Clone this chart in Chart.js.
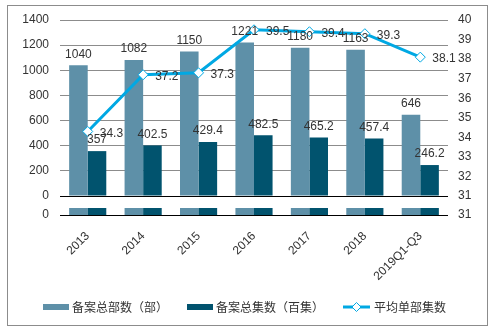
<!DOCTYPE html>
<html>
<head>
<meta charset="utf-8">
<script src="https://cdn.jsdelivr.net/npm/chart.js@4"></script>
<style>
  body { margin: 0; background: #fff; }
  #wrap { position: relative; width: 495px; height: 333px; }
  #frame { position: absolute; left: 7px; top: 5px; width: 481px; height: 321px; border: 1px solid #8c8c8c; box-sizing: border-box; }
  #legend { position: absolute; left: 43px; top: 299px; display: flex; align-items: center; font: 12px "Noto Sans CJK SC", sans-serif; color: #333; line-height: 16px; }
  #legend .item { display: flex; align-items: center; margin-right: 19px; }
  #legend .sw { display: inline-block; width: 26px; height: 6px; margin-right: 3px; }
  #legend svg { margin-right: 4px; }
</style>
</head>
<body>
<div id="wrap">
  <div id="frame"></div>
  <canvas id="myChart"></canvas>
  <div id="legend"></div>
</div>
<script>
// data
const categories = ['2013', '2014', '2015', '2016', '2017', '2018', '2019Q1-Q3'];
const totalWorks = [1040, 1082, 1150, 1221, 1180, 1163, 646];
const totalEpisodes = [357, 402.5, 429.4, 482.5, 465.2, 457.4, 246.2];
const avgEpisodes = [34.3, 37.2, 37.3, 39.5, 39.4, 39.3, 38.1];
const seriesNames = ['备案总部数（部）', '备案总集数（百集）', '平均单部集数'];
const leftTicks = [0, 1400, 200];   // min, max, step
const rightTicks = [31, 40, 1];

const colLight = '#5e90a8';
const colDark = '#01536e';
const colLine = '#00a8e3';
const txt = '#333';
const numFont = { family: '"Liberation Sans", Arial, sans-serif', size: 12 };

// labels on bars and points, plus the little broken-axis strip under the plot
const extras = {
  id: 'extras',
  afterDatasetsDraw(chart) {
    const ctx = chart.ctx, area = chart.chartArea;
    ctx.save();
    const stubTop = area.bottom + 12, stubBottom = area.bottom + 19;
    chart.data.datasets.forEach((ds, i) => {
      if (ds.type === 'line') return;
      chart.getDatasetMeta(i).data.forEach(el => {
        ctx.fillStyle = ds.backgroundColor;
        ctx.fillRect(el.x - el.width / 2, stubTop, el.width, stubBottom - stubTop);
      });
    });
    ctx.strokeStyle = '#000';
    ctx.lineWidth = 1;
    ctx.beginPath();
    ctx.moveTo(area.left, stubBottom + 0.5);
    ctx.lineTo(area.right, stubBottom + 0.5);
    ctx.stroke();

    ctx.font = numFont.size + 'px ' + numFont.family;
    ctx.fillStyle = txt;
    ctx.textBaseline = 'middle';
    ctx.textAlign = 'right';
    ctx.fillText(String(chart.scales.y.min), area.left - 11, stubBottom);
    ctx.textAlign = 'left';
    ctx.fillText(String(chart.scales.y1.min), area.right + 10, stubBottom);

    chart.data.datasets.forEach((ds, i) => {
      const meta = chart.getDatasetMeta(i);
      meta.data.forEach((el, j) => {
        const v = String(ds.data[j]);
        if (ds.type === 'line') {
          ctx.textAlign = 'left';
          ctx.textBaseline = 'middle';
          ctx.fillText(v, el.x + 12, el.y + 2);
        } else {
          ctx.textAlign = 'center';
          ctx.textBaseline = 'bottom';
          ctx.fillText(v, el.x, el.y - 5);
        }
      });
    });
    ctx.restore();
  }
};

var ctx = document.getElementById('myChart').getContext('2d');
var myChart = new Chart(ctx, {
  type: 'bar',
  data: {
    labels: categories,
    datasets: [{
      type: 'line',
      label: seriesNames[2],
      data: avgEpisodes,
      yAxisID: 'y1',
      borderColor: colLine,
      borderWidth: 3,
      pointStyle: 'rectRot',
      pointRadius: 5,
      pointBackgroundColor: '#fff',
      pointBorderColor: colLine,
      pointBorderWidth: 1,
      tension: 0,
      order: 0
    }, {
      label: seriesNames[0],
      data: totalWorks,
      yAxisID: 'y',
      backgroundColor: colLight,
      categoryPercentage: 0.67,
      barPercentage: 1,
      order: 1
    }, {
      label: seriesNames[1],
      data: totalEpisodes,
      yAxisID: 'y',
      backgroundColor: colDark,
      categoryPercentage: 0.67,
      barPercentage: 1,
      order: 2
    }]
  },
  options: {
    responsive: true,
    maintainAspectRatio: false,
    animation: false,
    layout: { padding: { top: 20, left: 0, right: 0, bottom: 0 } },
    plugins: { legend: { display: false }, tooltip: { enabled: false } },
    scales: {
      x: {
        grid: { display: false, drawTicks: false },
        border: { display: false },
        ticks: { color: txt, font: numFont, minRotation: 45, maxRotation: 45, padding: 33 },
        afterFit(scale) { scale.height = 137; }
      },
      y: {
        position: 'left',
        min: leftTicks[0], max: leftTicks[1],
        ticks: { stepSize: leftTicks[2], color: txt, font: numFont, padding: 11, callback: v => String(v) },
        grid: { drawTicks: false, color: c => c.tick && c.tick.value === 0 ? '#000' : '#8c8c8c' },
        border: { display: false },
        afterFit(scale) { scale.width = 60; }
      },
      y1: {
        position: 'right',
        min: rightTicks[0], max: rightTicks[1],
        ticks: { stepSize: rightTicks[2], color: txt, font: numFont, padding: 10, callback: v => String(v) },
        grid: { drawOnChartArea: false, drawTicks: false },
        border: { display: false },
        afterFit(scale) { scale.width = 47; }
      }
    }
  },
  plugins: [extras]
});

// legend built from the dataset names
const legend = document.getElementById('legend');
[[colLight, seriesNames[0]], [colDark, seriesNames[1]]].forEach(p => {
  legend.insertAdjacentHTML('beforeend',
    `<span class="item"><i class="sw" style="background:${p[0]}"></i>${p[1]}</span>`);
});
legend.insertAdjacentHTML('beforeend',
  `<span class="item"><svg width="27" height="10"><line x1="0" y1="5" x2="27" y2="5" stroke="${colLine}" stroke-width="3"/>` +
  `<polygon points="13.5,0.5 18,5 13.5,9.5 9,5" fill="#fff" stroke="${colLine}" stroke-width="1"/></svg>${seriesNames[2]}</span>`);
</script>
</body>
</html>
